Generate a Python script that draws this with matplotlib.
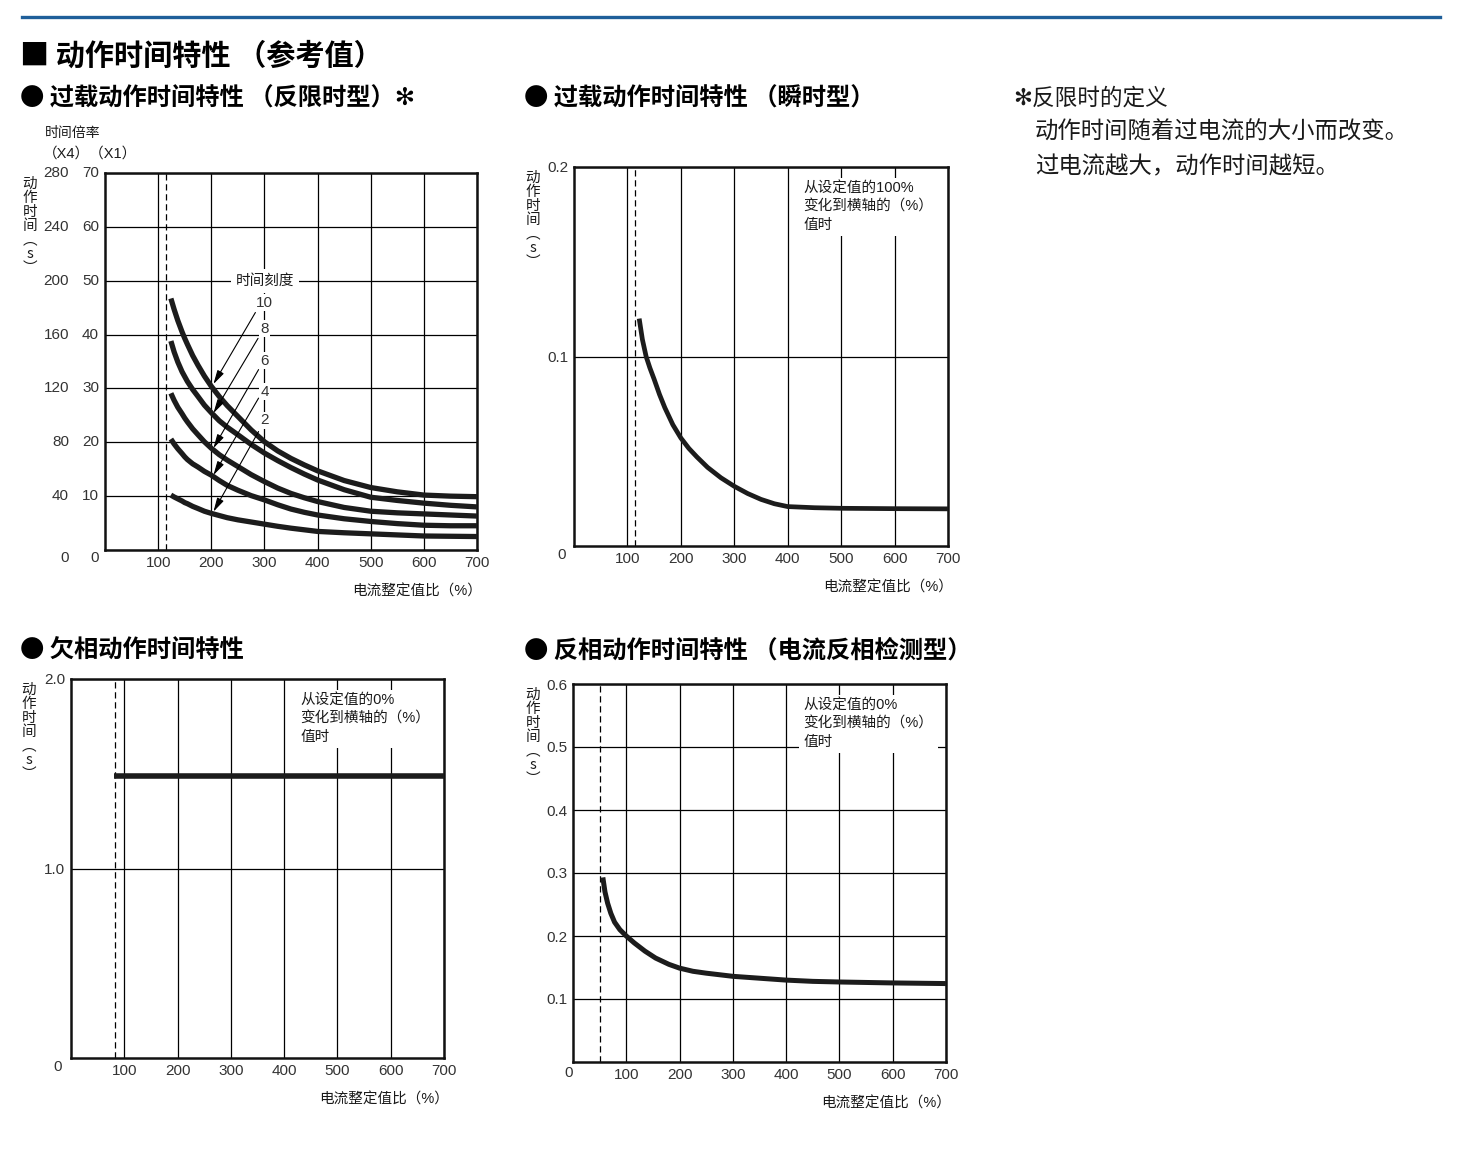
"""
Operating-time characteristic curves (reference values), four panels.
"""

import matplotlib

matplotlib.use("Agg")
import matplotlib.pyplot as plt

plt.rcParams["font.family"] = ["Liberation Sans", "Noto Sans CJK SC", "DejaVu Sans"]
CJK = ["Noto Sans CJK SC", "DejaVu Sans"]

W, H = 1468, 1151

# --------------------------------------------------------------------------- #
# Data
# --------------------------------------------------------------------------- #
X_TICKS = [100, 200, 300, 400, 500, 600, 700]

# Panel 1: overload, inverse-time (X1 scale), one curve per time dial setting
inv_x = [124, 130, 137, 145, 150, 155, 165, 175, 187, 200, 215, 230, 250, 275,
         300, 325, 350, 375, 400, 450, 500, 550, 600, 650, 700]
inv_dial = [10, 8, 6, 4, 2]
inv_y10 = [46.7, 44.7, 42.6, 40.5, 39.3, 38.2, 36.1, 34.3, 32.3, 30.4, 28.5, 26.8, 24.8, 22.3,
           20.1, 18.4, 17.0, 15.8, 14.7, 12.9, 11.6, 10.8, 10.2, 10.0, 9.9]
inv_y8 = [38.8, 36.8, 34.9, 33.1, 32.2, 31.3, 29.8, 28.5, 26.9, 25.5, 24.0, 22.8, 21.4, 19.6,
          18.0, 16.6, 15.3, 14.1, 13.0, 11.2, 9.8, 9.2, 8.7, 8.3, 8.0]
inv_y6 = [29.1, 27.8, 26.5, 25.3, 24.5, 23.8, 22.5, 21.4, 20.1, 18.9, 17.7, 16.7, 15.5, 14.0,
          12.7, 11.5, 10.5, 9.7, 9.0, 7.9, 7.2, 6.9, 6.7, 6.5, 6.3]
inv_y4 = [20.6, 19.7, 18.8, 17.9, 17.3, 16.8, 16.0, 15.4, 14.6, 13.9, 12.9, 12.0, 11.1, 10.1,
          9.3, 8.4, 7.6, 7.0, 6.5, 5.8, 5.3, 4.9, 4.6, 4.5, 4.5]
inv_y2 = [10.2, 9.85, 9.5, 9.1, 8.8, 8.6, 8.1, 7.7, 7.2, 6.8, 6.4, 6.0, 5.6, 5.2,
          4.8, 4.4, 4.05, 3.75, 3.45, 3.2, 3.0, 2.8, 2.6, 2.55, 2.5]
inv_yticks_x1 = [0, 10, 20, 30, 40, 50, 60, 70]
inv_yticks_x4 = [0, 40, 80, 120, 160, 200, 240, 280]
inv_setting = 115
# arrows: (tail x, tail y, head x, head y) and label y per dial
inv_arrows = [(283, 44.1, 204, 30.8), (288, 39.3, 204, 25.4), (289, 33.5, 204, 18.9),
              (289, 28.2, 204, 13.9), (289, 22.0, 204, 7.1)]
inv_label_y = [45.9, 41.1, 35.1, 29.4, 24.1]

# Panel 2: overload, instantaneous
ins_x = [122, 128, 135, 142, 150, 160, 170, 185, 200, 215, 230, 250, 275, 300,
         325, 350, 375, 400, 450, 500, 600, 700]
ins_y = [0.120, 0.109, 0.100, 0.094, 0.088, 0.080, 0.073, 0.064, 0.057, 0.0515, 0.047, 0.0415,
         0.036, 0.0315, 0.0277, 0.0246, 0.0223, 0.0208, 0.0202, 0.0199, 0.0197, 0.0196]
ins_setting = 115

# Panel 3: phase loss
pl_x = [81, 700]
pl_y = [1.49, 1.49]
pl_setting = 83

# Panel 4: reverse phase
rp_x = [56, 60, 65, 71, 78, 88, 100, 115, 135, 155, 180, 200, 225, 250, 300, 350,
        400, 450, 500, 600, 700]
rp_y = [0.293, 0.270, 0.252, 0.236, 0.222, 0.210, 0.200, 0.189, 0.176, 0.165, 0.155, 0.149,
        0.144, 0.141, 0.136, 0.133, 0.130, 0.128, 0.127, 0.1255, 0.1245]
rp_setting = 50

TXT = "#1a1a1a"
TICK = "#333333"
CURVE = "#1c1c1c"


def add_px_axes(fig, l, t, r, b):
    return fig.add_axes([l / W, 1 - b / H, (r - l) / W, (b - t) / H])


def ftext(fig, x, y, s, **kw):
    fig.text(x / W, 1 - y / H, s, **kw)


def base_axes(ax, ylim, ygrid, setting, ylabel_dx=-41):
    ax.set_xlim(0, 700)
    ax.set_ylim(*ylim)
    ax.set_xticks(X_TICKS)
    ax.set_yticks(ygrid)
    ax.set_xticklabels([str(v) for v in X_TICKS])
    ax.tick_params(length=0, labelsize=11, labelcolor=TICK, pad=4)
    ax.grid(True, color="black", lw=0.9)
    ax.set_axisbelow(True)
    for sp in ax.spines.values():
        sp.set_linewidth(1.8)
        sp.set_color("#111111")
    ax.axvline(setting, color="black", lw=0.9, ls=(0, (5, 3)), zorder=1.5)
    # stacked vertical y label
    ax.annotate("动\n作\n时\n间\n︵\ns\n︶", xy=(0, 1), xycoords="axes fraction",
                xytext=(ylabel_dx, -4), textcoords="offset pixels", ha="center", va="top",
                fontsize=10.5, color=TXT, linespacing=1.0, family=CJK)
    ax.annotate("电流整定值比（%）", xy=(1, 0), xycoords="axes fraction",
                xytext=(5, -42), textcoords="offset pixels", ha="right", va="center",
                fontsize=10.5, color=TXT)


def corner_zero(ax, dx, dy):
    ax.annotate("0", xy=(0, 0), xycoords="axes fraction", xytext=(dx, dy),
                textcoords="offset pixels", ha="right", va="center",
                fontsize=11, color=TICK)


def note(ax, s, x):
    ax.annotate(s, xy=(x, 1), xycoords=("data", "axes fraction"), xytext=(0, -15),
                textcoords="offset pixels", ha="left", va="top", fontsize=10.5,
                color=TXT, linespacing=1.35,
                bbox=dict(boxstyle="square,pad=0.3", fc="white", ec="none"))


fig = plt.figure(figsize=(W / 100, H / 100), dpi=100)

# --- header ---
fig.add_artist(plt.Line2D([22 / W, 1440 / W], [1 - 17 / H, 1 - 17 / H], color="#1f5f9a", lw=2.4))
ttl = dict(fontweight="heavy", va="center", color="black", family=CJK)
ftext(fig, 20, 56, "■ 动作时间特性 （参考值）", fontsize=21, **ttl)
ftext(fig, 20, 99, "● 过载动作时间特性 （反限时型）✻", fontsize=17.5, **ttl)
ftext(fig, 524, 99, "● 过载动作时间特性 （瞬时型）", fontsize=17.5, **ttl)
ftext(fig, 20, 651, "● 欠相动作时间特性", fontsize=17.5, **ttl)
ftext(fig, 524, 651, "● 反相动作时间特性 （电流反相检测型）", fontsize=17.5, **ttl)
ftext(fig, 1013, 98, "✻反限时的定义", fontsize=16.3, va="center", color=TXT, family=CJK)
ftext(fig, 1035, 132, "动作时间随着过电流的大小而改变。", fontsize=16.8, va="center", color=TXT, family=CJK)
ftext(fig, 1035, 167, "过电流越大，动作时间越短。", fontsize=16.8, va="center", color=TXT, family=CJK)

# --- panel 1: inverse time ---
ax1 = add_px_axes(fig, 105, 173, 477, 550)
base_axes(ax1, (0, 70), inv_yticks_x1, inv_setting, ylabel_dx=-75)
ax1.set_yticklabels([])
ytr = ax1.get_yaxis_transform()
for v1, v4 in zip(inv_yticks_x1, inv_yticks_x4):
    dy = -8 if v1 == 0 else 0
    for s, dx in ((str(v1), -6), (str(v4), -36)):
        ax1.annotate(s, xy=(0, v1), xycoords=ytr, xytext=(dx, dy), textcoords="offset pixels",
                     ha="right", va="center", fontsize=11, color=TICK)
ax1.annotate("时间倍率", xy=(0, 1), xycoords="axes fraction", xytext=(-60, 40),
             textcoords="offset pixels", ha="left", va="center", fontsize=10, color=TXT)
ax1.annotate("（X4）（X1）", xy=(0, 1), xycoords="axes fraction", xytext=(-62, 19),
             textcoords="offset pixels", ha="left", va="center", fontsize=10.5, color=TXT)
for ys in (inv_y10, inv_y8, inv_y6, inv_y4, inv_y2):
    ax1.plot(inv_x, ys, color=CURVE, lw=3.8, solid_capstyle="butt",
             solid_joinstyle="round", zorder=3)
ax1.text(301, 50, "时间刻度", ha="center", va="center", fontsize=10.5, color=TXT, zorder=4,
         bbox=dict(boxstyle="square,pad=0.35", fc="white", ec="none"))
for d, ly, (tx, ty, hx, hy) in zip(inv_dial, inv_label_y, inv_arrows):
    ax1.text(300, ly, str(d), ha="center", va="center", fontsize=11, color=TICK, zorder=4,
             bbox=dict(boxstyle="square,pad=0.1", fc="white", ec="none"))
    ax1.annotate("", xy=(hx, hy), xytext=(tx, ty), zorder=5,
                 arrowprops=dict(arrowstyle="-|>,head_length=0.7,head_width=0.18",
                                 color="black", lw=0.8, mutation_scale=12,
                                 shrinkA=0, shrinkB=0))

# --- panel 2: instantaneous ---
ax2 = add_px_axes(fig, 574, 167, 948, 546)
base_axes(ax2, (0, 0.2), [0.1, 0.2], ins_setting)
ax2.set_yticklabels(["0.1", "0.2"])
corner_zero(ax2, -8, -9)
ax2.plot(ins_x, ins_y, color=CURVE, lw=3.4, solid_capstyle="butt",
         solid_joinstyle="round", zorder=3)
note(ax2, "从设定值的100%\n变化到横轴的（%）\n值时", 430)

# --- panel 3: phase loss ---
ax3 = add_px_axes(fig, 71, 679, 444, 1058)
base_axes(ax3, (0, 2.0), [1.0, 2.0], pl_setting, ylabel_dx=-42)
ax3.set_yticklabels(["1.0", "2.0"])
corner_zero(ax3, -9, -9)
ax3.plot(pl_x, pl_y, color=CURVE, lw=4.0, solid_capstyle="butt", zorder=3)
note(ax3, "从设定值的0%\n变化到横轴的（%）\n值时", 430)

# --- panel 4: reverse phase ---
ax4 = add_px_axes(fig, 573, 684, 946, 1062)
base_axes(ax4, (0, 0.6), [0.1, 0.2, 0.3, 0.4, 0.5, 0.6], rp_setting, ylabel_dx=-40)
ax4.set_yticklabels(["0.1", "0.2", "0.3", "0.4", "0.5", "0.6"])
corner_zero(ax4, 0, -11)
ax4.plot(rp_x, rp_y, color=CURVE, lw=3.6, solid_capstyle="butt",
         solid_joinstyle="round", zorder=3)
note(ax4, "从设定值的0%\n变化到横轴的（%）\n值时", 433)

fig.savefig("out.png", dpi=100)
